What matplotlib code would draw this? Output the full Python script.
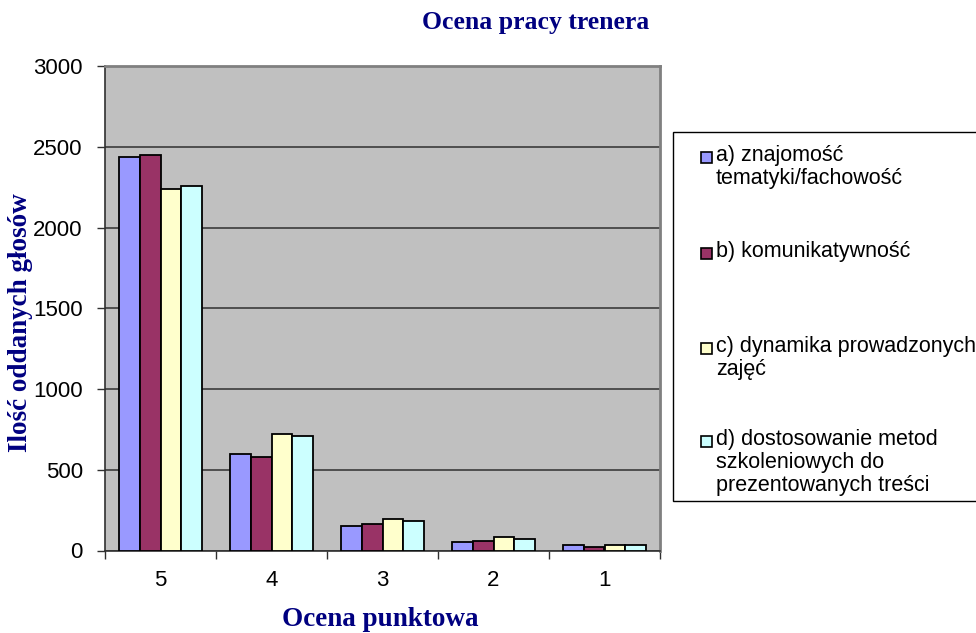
import numpy as np
import matplotlib.pyplot as plt
from matplotlib.patches import Rectangle

categories = ["5", "4", "3", "2", "1"]
a_vals = [2434, 600, 153, 50, 31]
b_vals = [2446, 577, 163, 58, 23]
c_vals = [2238, 721, 196, 81, 37]
d_vals = [2258, 709, 180, 71, 37]
labels = ["a) znajomość\ntematyki/fachowość",
          "b) komunikatywność",
          "c) dynamika prowadzonych\nzajęć",
          "d) dostosowanie metod\nszkoleniowych do\nprezentowanych treści"]
colors = ["#9999FF", "#993366", "#FFFFCC", "#CCFFFF"]

W, H = 976, 633
fig = plt.figure(figsize=(W / 100, H / 100), dpi=100)
ax = fig.add_axes([105 / W, 1 - 550.5 / H, 555 / W, 484.5 / H])
ax.set_facecolor("#C0C0C0")

x = np.arange(len(categories))
bw = 0.187
series = [a_vals, b_vals, c_vals, d_vals]
for i, vals in enumerate(series):
    ax.bar(x + (i - 1.5) * bw, vals, bw, color=colors[i], edgecolor="black",
           linewidth=1.3, zorder=3)

ax.set_xlim(-0.5, len(categories) - 0.5)
ax.set_ylim(0, 3000)
ax.set_yticks(range(0, 3001, 500))
ax.yaxis.grid(True, color="#303030", linewidth=1.1, zorder=0)
ax.set_axisbelow(True)
ax.set_xticks(x)
ax.set_xticklabels(categories)
ax.set_xticks(np.arange(-0.5, len(categories)), minor=True)
ax.tick_params(axis="x", which="major", length=0, pad=14, labelsize=16)
ax.tick_params(axis="x", which="minor", length=6, width=1, color="#303030")
ax.tick_params(axis="y", length=6, width=1, color="#303030", labelsize=16, pad=10)
for s in ["top", "right"]:
    ax.spines[s].set_color("#808080")
    ax.spines[s].set_linewidth(2)
for s in ["left", "bottom"]:
    ax.spines[s].set_color("#303030")
    ax.spines[s].set_linewidth(1.2)
for t in ax.get_xticklabels() + ax.get_yticklabels():
    t.set_family("Liberation Sans")

serif = dict(family="Liberation Serif", weight="bold", color="#000080")
fig.text(536 / W, 1 - 22 / H, "Ocena pracy trenera", ha="center", va="center",
         fontsize=18.5, **serif)
fig.text(380 / W, 1 - 619 / H, "Ocena punktowa", ha="center", va="center",
         fontsize=19.5, **serif)
fig.text(21 / W, 1 - 323 / H, "Ilość oddanych głosów", ha="center", va="center",
         rotation=90, fontsize=19.5, **serif)

# legend box
fig.add_artist(Rectangle((673 / W, 1 - 501 / H), 330 / W, 369 / H,
                         transform=fig.transFigure, facecolor="white",
                         edgecolor="black", linewidth=1, clip_on=False))
first_line = [157, 253, 348, 441]
for i, lab in enumerate(labels):
    yc = first_line[i]
    fig.add_artist(Rectangle((701 / W, 1 - (yc + 6) / H), 11 / W, 11 / H,
                             transform=fig.transFigure, facecolor=colors[i],
                             edgecolor="black", linewidth=1.2))
    fig.text(716 / W, 1 - (yc - 12) / H, lab, ha="left", va="top",
             fontsize=15.5, family="Liberation Sans", linespacing=1.13)

fig.savefig("out.png", dpi=100)
